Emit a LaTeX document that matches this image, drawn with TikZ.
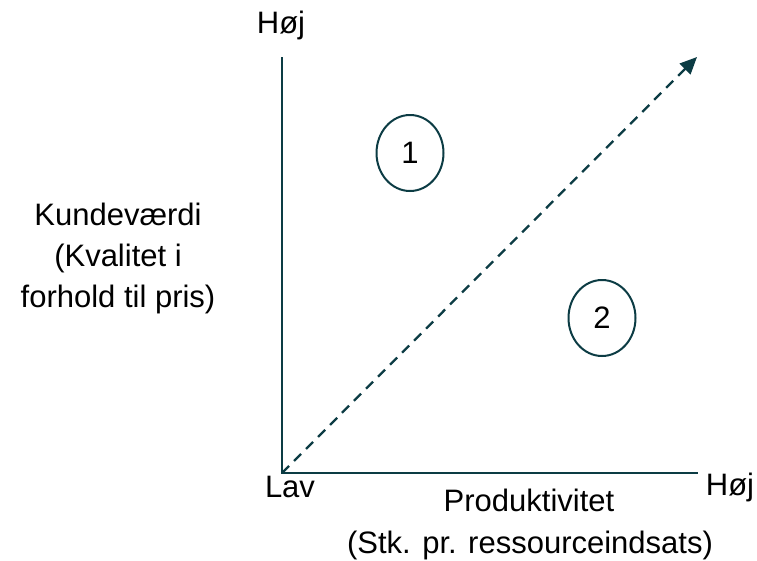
\documentclass[tikz,border=0pt]{standalone}
\usepackage{fontspec}
\setmainfont{Liberation Sans}
\usetikzlibrary{arrows.meta,shapes.geometric}
\definecolor{axisteal}{RGB}{12,60,68}
\begin{document}
\begin{tikzpicture}[x=1pt,y=-1pt,
  axisline/.style={draw=axisteal,line width=2.3pt},
  diagline/.style={draw=axisteal,line width=2.3pt,dash pattern=on 10pt off 7pt,
    -{Triangle[length=17pt,width=15pt]}},
  zone/.style={ellipse,draw=axisteal,line width=2pt,minimum width=67pt,minimum height=76pt,inner sep=0pt},
  lbl/.style={font=\fontsize{31}{41}\selectfont,inner sep=0pt}]
\useasboundingbox (0,0) rectangle (757,560);
% axes
\coordinate (origin) at (282,473);
\coordinate (ytop) at (282,57);
\coordinate (xend) at (698,473);
\coordinate (diagend) at (697,57);
\draw[axisline] (ytop) -- (origin) -- (xend);
\draw[diagline] (origin) -- (diagend);
% regions
\node[zone,lbl] (r1) at (410,153) {1};
\node[zone,lbl] (r2) at (602,318) {2};
% axis labels
\node[lbl,anchor=base] (yhigh) at (281,33) {Høj};
\node[lbl,anchor=base] (low) at (290,497) {Lav};
\node[lbl,anchor=base] (xhigh) at (730,495) {Høj};
\node[lbl,align=center] (ylabel) at (118,258) {Kundeværdi\\(Kvalitet i\\forhold til pris)};
\node[lbl,anchor=base] (xlabel1) at (529,511) {Produktivitet};
\node[lbl,anchor=base] (xlabel2) at (530,553) {(Stk. pr. ressourceindsats)};
\end{tikzpicture}
\end{document}
